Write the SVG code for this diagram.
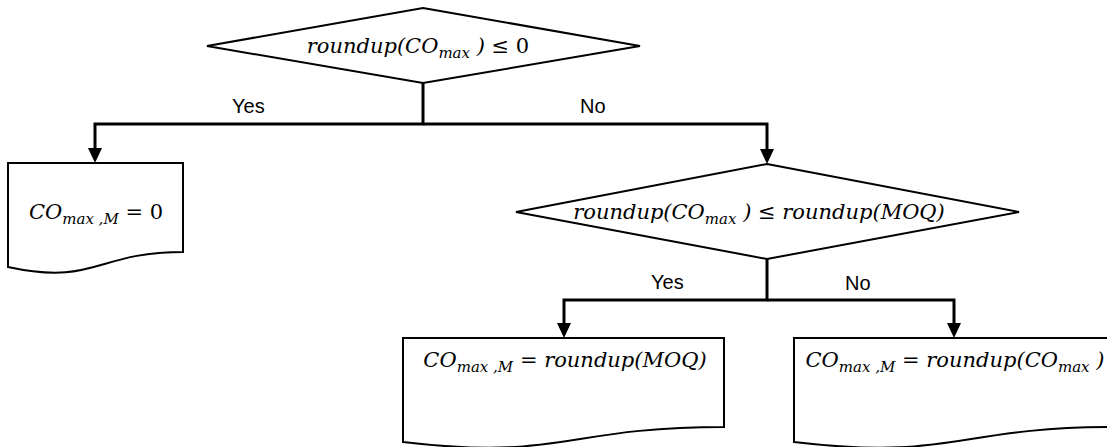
<svg xmlns="http://www.w3.org/2000/svg" width="1107" height="447" viewBox="0 0 1107 447">
  <style>
    .shape { fill: #ffffff; stroke: #000000; stroke-width: 2; stroke-linejoin: miter; }
    .link { fill: none; stroke: #000000; stroke-width: 3; }
    .math { font-family: "DejaVu Serif", "Liberation Serif", serif; font-style: italic; font-size: 21px; fill: #000000; }
    .up { font-style: normal; }
    .sub { font-size: 15px; }
    .label { font-family: "Liberation Sans", Arial, sans-serif; font-size: 20px; fill: #000000; }
  </style>
  <defs>
    <marker id="arrow" viewBox="0 0 15 14" refX="7" refY="7" markerWidth="15" markerHeight="14" markerUnits="userSpaceOnUse" orient="auto">
      <path d="M0,0 L15,7 L0,14 Z" fill="#000000"/>
    </marker>
  </defs>

  <rect width="1107" height="447" fill="#ffffff"/>

  <!-- connectors -->
  <g id="connectors">
    <path class="link" d="M423,83 V124 H95 V155" marker-end="url(#arrow)"/>
    <path class="link" d="M423,124 H767 V156" marker-end="url(#arrow)"/>
    <path class="link" d="M767,259 V300 H564 V330" marker-end="url(#arrow)"/>
    <path class="link" d="M767,300 H954 V330" marker-end="url(#arrow)"/>
    <text class="label" x="232" y="113">Yes</text>
    <text class="label" x="580" y="113">No</text>
    <text class="label" x="651" y="289">Yes</text>
    <text class="label" x="845" y="290">No</text>
  </g>

  <!-- decision: roundup(CO_max) <= 0 -->
  <g id="decision-zero">
    <polygon class="shape" points="423,8 640,46 423,83 207,46"/>
    <text class="math" x="418" y="53" text-anchor="middle">roundup(CO<tspan class="sub" dy="5">max</tspan><tspan dy="-5"> ) <tspan class="up">≤ 0</tspan></tspan></text>
  </g>

  <!-- result: CO_max,M = 0 -->
  <g id="result-zero">
    <path class="shape" d="M8,163 H183 V252 C95.5,252 95.5,286 8,267 Z"/>
    <text class="math" x="96" y="219" text-anchor="middle">CO<tspan class="sub" dy="5">max ,M</tspan><tspan class="up" dy="-5"> = 0</tspan></text>
  </g>

  <!-- decision: roundup(CO_max) <= roundup(MOQ) -->
  <g id="decision-moq">
    <polygon class="shape" points="767,164 1019,212 767,259 516,212"/>
    <text class="math" x="759" y="219" text-anchor="middle">roundup(CO<tspan class="sub" dy="5">max</tspan><tspan dy="-5"> ) <tspan class="up">≤</tspan> roundup(MOQ)</tspan></text>
  </g>

  <!-- result: CO_max,M = roundup(MOQ) -->
  <g id="result-moq">
    <path class="shape" d="M403,338 H724 V427 C563.5,427 563.5,461 403,442 Z"/>
    <text class="math" x="565" y="367" text-anchor="middle">CO<tspan class="sub" dy="5">max ,M</tspan><tspan dy="-5"> <tspan class="up">=</tspan> roundup(MOQ)</tspan></text>
  </g>

  <!-- result: CO_max,M = roundup(CO_max) -->
  <g id="result-comax">
    <path class="shape" d="M794,338 H1115 V427 C954.5,427 954.5,461 794,442 Z"/>
    <text class="math" x="955" y="367" text-anchor="middle">CO<tspan class="sub" dy="5">max ,M</tspan><tspan dy="-5"> <tspan class="up">=</tspan> roundup(CO<tspan class="sub" dy="5">max</tspan><tspan dy="-5"> )</tspan></tspan></text>
  </g>
</svg>
